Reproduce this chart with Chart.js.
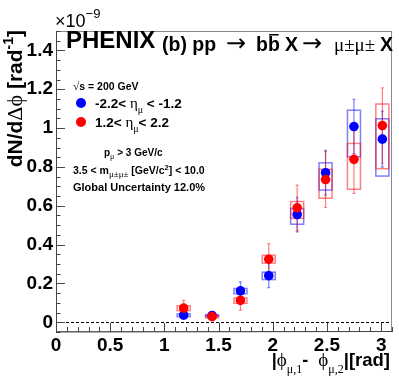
<!DOCTYPE html>
<html>
<head>
<meta charset="utf-8">
<script src="https://cdn.jsdelivr.net/npm/chart.js@4.4.0/dist/chart.umd.min.js"></script>
<style>
  html, body { margin: 0; padding: 0; background: #fff; }
</style>
</head>
<body>
<canvas id="c" width="399" height="387"></canvas>
<script>
// bin centres in |dphi| (rad), values in units of 1e-9 rad^-1
const dphiBins = [1.178, 1.440, 1.702, 1.963, 2.225, 2.487, 2.749, 3.011];

// -2.2 < eta < -1.2 (blue)
const southVals  = [0.037, 0.035, 0.162, 0.240, 0.555, 0.770, 1.008, 0.943];
const southStat  = [0.010, 0.008, 0.046, 0.062, 0.089, 0.115, 0.140, 0.144];
const southSysUp = [0.006, 0.004, 0.012, 0.018, 0.031, 0.051, 0.084, 0.105];
const southSysDn = [0.008, 0.005, 0.015, 0.020, 0.050, 0.089, 0.156, 0.190];

// 1.2 < eta < 2.2 (red)
const northVals  = [0.073, 0.029, 0.113, 0.325, 0.589, 0.735, 0.839, 1.013];
const northStat  = [0.040, 0.008, 0.050, 0.080, 0.117, 0.144, 0.175, 0.194];
const northSysUp = [0.012, 0.005, 0.012, 0.020, 0.033, 0.053, 0.082, 0.111];
const northSysDn = [0.013, 0.006, 0.015, 0.020, 0.054, 0.096, 0.154, 0.222];

const xTicks = [0, 0.5, 1, 1.5, 2, 2.5, 3];
const yTicks = [0, 0.2, 0.4, 0.6, 0.8, 1, 1.2, 1.4];

const SANS = '"Liberation Sans", Arial, Helvetica, sans-serif';
const SERIF = '"Liberation Serif", "DejaVu Serif", serif';
const B = s => `bold ${s}px ${SANS}`;
const R = s => `${s}px ${SANS}`;
const G = s => `${s}px ${SERIF}`;
const ARROW = s => `${s}px "DejaVu Sans", sans-serif`;

const series = [
  { vals: southVals, stat: southStat, up: southSysUp, dn: southSysDn, rgb: '0,0,255' },
  { vals: northVals, stat: northStat, up: northSysUp, dn: northSysDn, rgb: '255,0,0' }
];

// draw a row of text pieces (sub/superscripts, overlines); r.x pins a piece
function drawRuns(ctx, runs, x, y, align) {
  let w = 0;
  runs.forEach(r => { ctx.font = r.f; w += ctx.measureText(r.t).width; });
  let cx = align === 'right' ? x - w : x;
  ctx.textAlign = 'left';
  ctx.textBaseline = 'alphabetic';
  runs.forEach(r => {
    ctx.font = r.f;
    if (r.x !== undefined) cx = r.x;
    const rw = ctx.measureText(r.t).width;
    ctx.fillText(r.t, cx, y + (r.dy || 0));
    if (r.bar) {
      ctx.fillRect(cx + rw * 0.1, y - r.bar, rw * 0.8, 1.5);
    }
    cx += rw;
  });
}

const decor = {
  id: 'decor',
  beforeDatasetsDraw(chart) {
    const { ctx, chartArea: a, scales: { x, y } } = chart;
    ctx.save();
    // dashed zero line
    ctx.strokeStyle = '#000';
    ctx.lineWidth = 1;
    ctx.setLineDash([3, 2]);
    const y0 = Math.round(y.getPixelForValue(0)) + 0.5;
    ctx.beginPath(); ctx.moveTo(a.left, y0); ctx.lineTo(a.right, y0); ctx.stroke();
    ctx.setLineDash([]);

    // systematic boxes
    series.forEach(s => {
      ctx.strokeStyle = `rgba(${s.rgb},0.5)`;
      ctx.lineWidth = 1.5;
      dphiBins.forEach((b, i) => {
        const x1 = x.getPixelForValue(b - 0.06), x2 = x.getPixelForValue(b + 0.06);
        const yt = y.getPixelForValue(s.vals[i] + s.up[i]);
        const yb = y.getPixelForValue(s.vals[i] - s.dn[i]);
        ctx.strokeRect(x1, yt, x2 - x1, yb - yt);
      });
    });
    // statistical bars
    series.forEach(s => {
      ctx.strokeStyle = `rgba(${s.rgb},0.5)`;
      ctx.lineWidth = 1.2;
      dphiBins.forEach((b, i) => {
        const px = x.getPixelForValue(b);
        const yt = y.getPixelForValue(s.vals[i] + s.stat[i]);
        const yb = y.getPixelForValue(s.vals[i] - s.stat[i]);
        ctx.beginPath();
        ctx.moveTo(px, yt); ctx.lineTo(px, yb);
        ctx.moveTo(px - 1.5, yt); ctx.lineTo(px + 1.5, yt);
        ctx.moveTo(px - 1.5, yb); ctx.lineTo(px + 1.5, yb);
        ctx.stroke();
      });
    });
    ctx.restore();
  },
  afterDraw(chart) {
    const { ctx, chartArea: a, scales: { x, y } } = chart;
    ctx.save();
    // frame
    ctx.strokeStyle = '#8a8a8a';
    ctx.lineWidth = 1;
    ctx.strokeRect(a.left + 0.5, a.top + 0.5, a.right - a.left - 1, a.bottom - a.top - 1);
    ctx.strokeStyle = '#444';
    ctx.beginPath();
    ctx.moveTo(a.left + 0.5, a.top); ctx.lineTo(a.left + 0.5, a.bottom);
    ctx.lineTo(a.right, a.bottom - 0.5);
    ctx.stroke();

    // ticks (inward)
    ctx.beginPath();
    for (let k = Math.ceil(x.min / 0.1 - 1e-6); k * 0.1 <= x.max + 1e-6; k++) {
      const px = Math.round(x.getPixelForValue(k * 0.1)) + 0.5;
      const len = k % 5 === 0 ? 9 : 5;
      ctx.moveTo(px, a.bottom); ctx.lineTo(px, a.bottom - len);
    }
    for (let k = Math.ceil(y.min / 0.05 - 1e-6); k * 0.05 <= y.max + 1e-6; k++) {
      const py = Math.round(y.getPixelForValue(k * 0.05)) + 0.5;
      const len = k % 4 === 0 ? 9 : 4.5;
      ctx.moveTo(a.left, py); ctx.lineTo(a.left + len, py);
    }
    ctx.stroke();

    ctx.fillStyle = '#000';
    // exponent
    drawRuns(ctx, [{ t: '×10', f: R(18) }, { t: '−9', f: R(13), dy: -9 }], a.left - 1, 27);

    // title
    drawRuns(ctx, [{ t: 'PHENIX', f: B(24) }], a.left + 10, 48);
    drawRuns(ctx, [
      { t: '(b) pp', f: B(19.5), x: 162 },
      { t: '→', f: ARROW(24), x: 226 },
      { t: 'b', f: B(19.5), x: 256 },
      { t: 'b', f: B(19.5), bar: 17 },
      { t: 'X', f: B(19.5), x: 285 },
      { t: '→', f: ARROW(24), x: 302 },
      { t: 'μ±μ±', f: G(19), x: 334 },
      { t: 'X', f: B(19.5), x: 380 }
    ], 0, 51);

    // legend
    drawRuns(ctx, [{ t: '√', f: G(11.5) }, { t: 's = 200 GeV', f: B(10.5) }], 73, 90);
    const legRows = [{ rgb: '0,0,255', lo: '-2.2< ', hi: ' < -1.2', yy: 103 },
                     { rgb: '255,0,0', lo: '1.2< ', hi: '< 2.2', yy: 122 }];
    legRows.forEach(r => {
      ctx.fillStyle = `rgb(${r.rgb})`;
      ctx.beginPath(); ctx.arc(81, r.yy, 5, 0, Math.PI * 2); ctx.fill();
      ctx.fillStyle = '#000';
      drawRuns(ctx, [
        { t: r.lo, f: B(13.5) },
        { t: 'η', f: G(15) },
        { t: 'μ', f: G(10), dy: 5 },
        { t: r.hi, f: B(13.5) }
      ], 95, r.yy + 5);
    });

    drawRuns(ctx, [{ t: 'p', f: B(10) }, { t: 'μ', f: G(8), dy: 3 }, { t: ' > 3 GeV/c', f: B(10) }], 104, 156);
    drawRuns(ctx, [
      { t: '3.5 < m', f: B(10.5) },
      { t: 'μ±μ±', f: G(9), dy: 3 },
      { t: ' [GeV/c', f: B(10.5) },
      { t: '2', f: B(7.5), dy: -4 },
      { t: '] < 10.0', f: B(10.5) }
    ], 73, 174);
    drawRuns(ctx, [{ t: 'Global Uncertainty 12.0%', f: B(11) }], 73, 191);

    // x title
    drawRuns(ctx, [
      { t: '|', f: B(18) },
      { t: 'ϕ', f: G(19) },
      { t: 'μ,1', f: G(12), dy: 7 },
      { t: '-  ', f: B(18) },
      { t: 'ϕ', f: G(19) },
      { t: 'μ,2', f: G(12), dy: 7 },
      { t: '|[rad]', f: B(18.5) }
    ], a.right - 2, 366, 'right');

    // y title
    ctx.translate(22, a.top - 1);
    ctx.rotate(-Math.PI / 2);
    drawRuns(ctx, [
      { t: 'dN/d', f: B(21) },
      { t: 'Δϕ', f: G(22) },
      { t: ' [rad', f: B(21) },
      { t: '-1', f: B(14), dy: -9 },
      { t: ']', f: B(21) }
    ], 0, 0, 'right');
    ctx.restore();
  }
};

const ctx = document.getElementById('c').getContext('2d');
new Chart(ctx, {
  type: 'scatter',
  data: {
    datasets: [
      {
        label: '-2.2< eta < -1.2',
        data: dphiBins.map((b, i) => ({ x: b, y: southVals[i] })),
        backgroundColor: '#0000ff',
        borderWidth: 0,
        pointRadius: 4.8,
        order: 2
      },
      {
        label: '1.2< eta < 2.2',
        data: dphiBins.map((b, i) => ({ x: b, y: northVals[i] })),
        backgroundColor: '#ff0000',
        borderWidth: 0,
        pointRadius: 4.8,
        order: 1
      }
    ]
  },
  options: {
    responsive: false,
    animation: false,
    devicePixelRatio: 1,
    layout: { padding: { top: 31, right: 7, left: 0, bottom: 0 } },
    plugins: { legend: { display: false }, tooltip: { enabled: false } },
    scales: {
      x: {
        type: 'linear',
        min: 0,
        max: 3.1,
        afterBuildTicks: s => { s.ticks = xTicks.map(v => ({ value: v })); },
        afterFit: s => { s.height = 55; },
        grid: { display: false, drawTicks: false },
        border: { display: false },
        ticks: {
          autoSkip: false, maxRotation: 0, padding: 2, color: '#000',
          font: { family: SANS, size: 19, weight: 'bold' },
          callback: v => String(v)
        }
      },
      y: {
        type: 'linear',
        min: -0.05,
        max: 1.5,
        afterBuildTicks: s => { s.ticks = yTicks.map(v => ({ value: v })); },
        afterFit: s => { s.width = 56; },
        grid: { display: false, drawTicks: false },
        border: { display: false },
        ticks: {
          autoSkip: false, padding: 3, color: '#000',
          font: { family: SANS, size: 19, weight: 'bold' },
          callback: v => String(v)
        }
      }
    }
  },
  plugins: [decor]
});
</script>
</body>
</html>
